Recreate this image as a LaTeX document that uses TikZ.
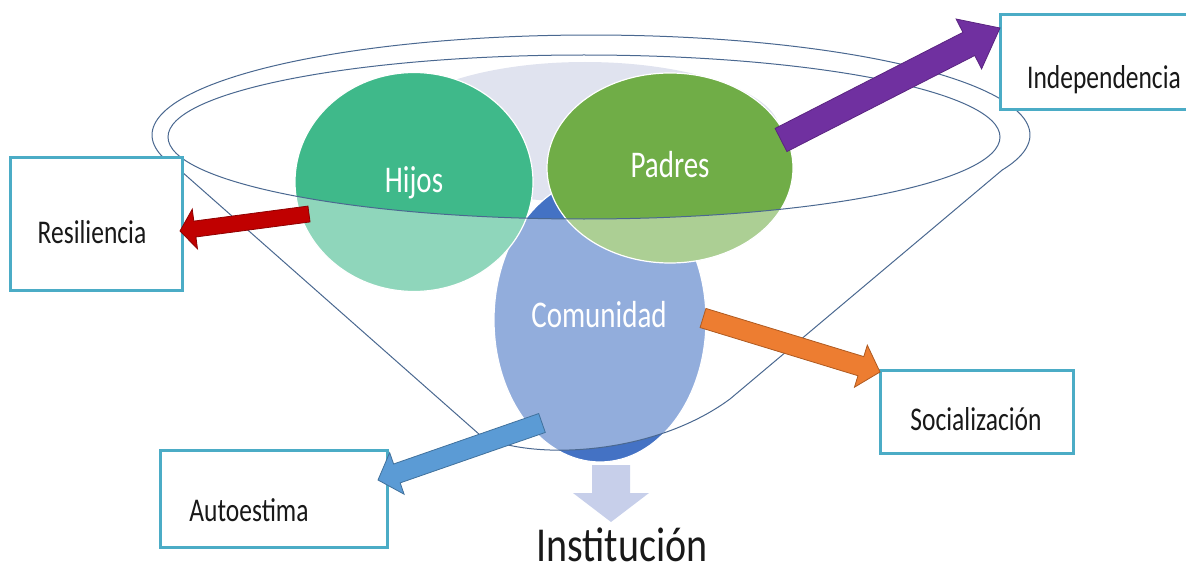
\documentclass[tikz,border=0pt]{standalone}
\usepackage{graphicx}
\usepackage{fontspec}
\setmainfont{Carlito}
\usetikzlibrary{calc,shapes.geometric}
\definecolor{hijosC}{HTML}{3FB98A}
\definecolor{padresC}{HTML}{70AD47}
\definecolor{comC}{HTML}{4472C4}
\definecolor{lavC}{HTML}{E0E3EF}
\definecolor{instC}{HTML}{C7CFEA}
\definecolor{funC}{HTML}{4A6890}
\definecolor{boxC}{HTML}{4BACC6}
\definecolor{redC}{HTML}{C00000}
\definecolor{redD}{HTML}{8E0000}
\definecolor{purC}{HTML}{7030A0}
\definecolor{purD}{HTML}{5A2480}
\definecolor{oraC}{HTML}{ED7D31}
\definecolor{oraD}{HTML}{AE5A21}
\definecolor{bluC}{HTML}{5B9BD5}
\definecolor{bluD}{HTML}{41719C}
\newcommand\vs[1]{\scalebox{1}[1.3]{#1}}
\newcommand\blockarrow[6]{%
  \coordinate (#1#2base) at ($(#2)!#5!(#1)$);
  \filldraw[#6] ($(#1)!#3!90:(#2)$) -- ($(#1#2base)!#3!-90:(#1)$) -- ($(#1#2base)!#4!-90:(#1)$) -- (#2) -- ($(#1#2base)!#4!90:(#1)$) -- ($(#1#2base)!#3!90:(#1)$) -- ($(#1)!#3!-90:(#2)$) -- cycle;
}
\begin{document}
\begin{tikzpicture}[x=1pt,y=-1pt,
  blob/.style={ellipse, inner sep=0pt, draw=white, line width=1.2pt},
  funline/.style={draw=funC, line width=1pt},
  box/.style={rectangle, draw=boxC, fill=white, line width=3pt, inner sep=0pt},
  lbl/.style={font=\fontsize{25.5}{28}\selectfont, text=black!90, inner sep=0pt, anchor=base},
  inlbl/.style={font=\fontsize{29}{32}\selectfont, text=white, inner sep=0pt, anchor=base}]
\useasboundingbox (0,0) rectangle (1186,575);
% lavender background inside rim
\fill[lavC] (585,132) ellipse[x radius=195, y radius=70];
% circles
\node[blob, fill=comC, minimum width=212pt, minimum height=284pt] (com) at (600,320) {};
\node[blob, fill=hijosC, minimum width=238pt, minimum height=219pt] (hijos) at (414,182) {};
\node[blob, fill=padresC, minimum width=246pt, minimum height=190pt] (padres) at (670,168) {};
% funnel body (semi-transparent white) with open rim
\fill[white, opacity=0.42, even odd rule]
  plot[domain=159.5:380.5, samples=150] ({591+439*cos(\x)},{135+100*sin(\x)})
  -- (730,399) .. controls (650,458) and (525,460) .. (480,435) -- cycle
  (584,137) ellipse[x radius=416, y radius=82];
% funnel lines
\draw[funline]
  plot[domain=159.5:380.5, samples=150] ({591+439*cos(\x)},{135+100*sin(\x)})
  -- (730,399) .. controls (650,458) and (525,460) .. (480,435) -- cycle;
\draw[funline] (584,137) ellipse[x radius=416, y radius=82];
% texts in circles
\node[inlbl] (hijosT) at (414,192) {\vs{Hijos}};
\node[inlbl] (padresT) at (670,177) {\vs{Padres}};
\node[inlbl] (comT) at (599,327) {\vs{Comunidad}};
% boxes
\node[box, minimum width=172pt, minimum height=132pt] (res) at (96,224) {};
\node[box, minimum width=188pt, minimum height=95pt] (ind) at (1094,62.5) {};
\node[box, minimum width=193pt, minimum height=83pt] (soc) at (976.5,411.5) {};
\node[box, minimum width=227pt, minimum height=97pt] (aut) at (273.5,498.5) {};
\node[lbl] (resT) at (92,243) {\vs{Resiliencia}};
\node[lbl] (indT) at (1104,89) {\vs{Independencia}};
\node[lbl] (socT) at (976,430) {\vs{Socialización}};
\node[lbl] (autT) at (249,521) {\vs{Autoestima}};
% arrow end points
\coordinate (rA) at (309,214);
\coordinate (rB) at (180,231);
\coordinate (pA) at (781,140);
\coordinate (pB) at (1000,28);
\coordinate (oA) at (703,318);
\coordinate (oB) at (880,372);
\coordinate (bA) at (542,423);
\coordinate (bB) at (378,480);
\coordinate (iA) at (611,465);
\coordinate (iB) at (611,522);
\blockarrow{rA}{rB}{8pt}{20pt}{15pt}{fill=redC, draw=redD, line width=0.8pt}
\blockarrow{pA}{pB}{13pt}{28pt}{35pt}{fill=purC, draw=purD, line width=0.8pt}
\blockarrow{oA}{oB}{10pt}{22pt}{20pt}{fill=oraC, draw=oraD, line width=0.8pt}
\blockarrow{bA}{bB}{10pt}{22pt}{20pt}{fill=bluC, draw=bluD, line width=0.8pt}
\blockarrow{iA}{iB}{19pt}{38pt}{29pt}{fill=instC, draw=none}
% Institucion
\node[font=\fontsize{40}{44}\selectfont, text=black!90, inner sep=0pt, anchor=base] (inst) at (622,561) {\scalebox{1}[1.22]{Institución}};
\end{tikzpicture}
\end{document}
